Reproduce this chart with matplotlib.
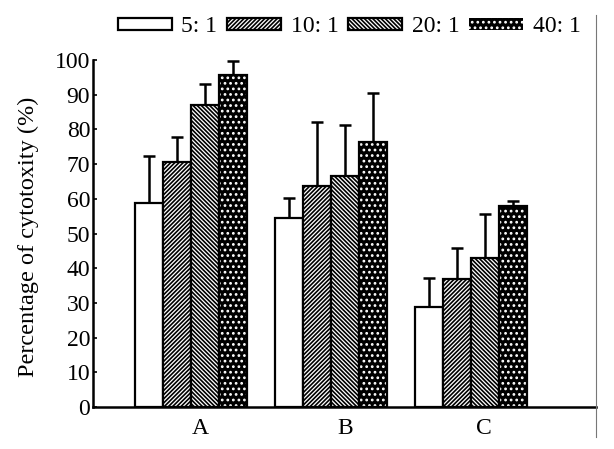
import matplotlib
matplotlib.use("Agg")
import matplotlib.pyplot as plt
from matplotlib.lines import Line2D
from matplotlib.patches import Patch
import numpy as np

# ---- data ----
groups = ["A", "B", "C"]
ratios = ["5: 1", "10: 1", "20: 1", "40: 1"]
means = {
    "5: 1":  [58.8, 54.5, 28.7],
    "10: 1": [70.7, 63.8, 36.8],
    "20: 1": [87.0, 66.7, 42.9],
    "40: 1": [95.7, 76.5, 58.0],
}
errors = {
    "5: 1":  [13.4, 5.8, 8.4],
    "10: 1": [7.0, 18.2, 9.0],
    "20: 1": [6.0, 14.7, 12.8],
    "40: 1": [4.0, 13.9, 1.4],
}
y_ticks = [0, 10, 20, 30, 40, 50, 60, 70, 80, 90, 100]

# ---- style ----
plt.rcParams['font.family'] = ['Liberation Serif', 'DejaVu Serif']
plt.rcParams['hatch.linewidth'] = 1.2

W, H = 614, 449
fig = plt.figure(figsize=(W / 100, H / 100), dpi=100)
ax = fig.add_axes([93 / W, (H - 407) / H, (596 - 93) / W, (407 - 60) / H])

hatches = [None, "////////", "\\\\\\\\\\\\\\\\", "..."]

x = np.arange(len(groups))
width = 0.2
handles = []
for i, r in enumerate(ratios):
    pos = x + (i - 1.5) * width
    if i == 3:
        ax.bar(pos, means[r], width, facecolor="black", edgecolor="white",
               hatch=hatches[i], linewidth=0, zorder=2)
        ax.bar(pos, means[r], width, fill=False, edgecolor="black",
               linewidth=1.6, zorder=3)
        h = Patch(facecolor="black", edgecolor="white", hatch=hatches[i], linewidth=0)
    else:
        ax.bar(pos, means[r], width, facecolor="white", edgecolor="black",
               hatch=hatches[i], linewidth=1.6, zorder=2)
        h = Patch(facecolor="white", edgecolor="black", hatch=hatches[i], linewidth=1.6)
    ax.errorbar(pos, means[r], yerr=[np.zeros(len(groups)), errors[r]], fmt="none",
                ecolor="black", elinewidth=1.8, capsize=4, capthick=1.8, zorder=1)
    handles.append(h)

ax.set_xlim(-0.7, 2.893)
ax.set_ylim(0, 100)
ax.set_yticks(y_ticks)
ax.set_yticklabels([str(t) for t in y_ticks], fontsize=17)
ax.tick_params(axis="y", direction="in", length=3, width=1.2, pad=2)
ax.set_xticks(x + np.array([0.064, 0.10, 0.09]))
ax.set_xticklabels(groups, fontsize=17)
ax.tick_params(axis="x", length=0, pad=8)

for s in ["top", "right"]:
    ax.spines[s].set_visible(False)
ax.spines["left"].set_linewidth(1.8)
ax.spines["bottom"].set_linewidth(1.8)

ax.set_ylabel("Percentage of cytotoxity (%)", fontsize=17.5, labelpad=4)
ax.yaxis.set_label_coords(-0.107, 0.49)

fig.legend(handles, ratios, loc="center", bbox_to_anchor=(349 / W, 1 - 27 / H),
           ncol=4, frameon=False, fontsize=17, handlelength=2.3, handleheight=0.35,
           handletextpad=0.4, columnspacing=0.4)

# scan border line on the right
fig.add_artist(Line2D([596 / W, 596 / W], [1 - 15 / H, 1 - 437 / H],
                      transform=fig.transFigure, color="#777777", linewidth=0.8))

fig.savefig("out.png", dpi=100)
